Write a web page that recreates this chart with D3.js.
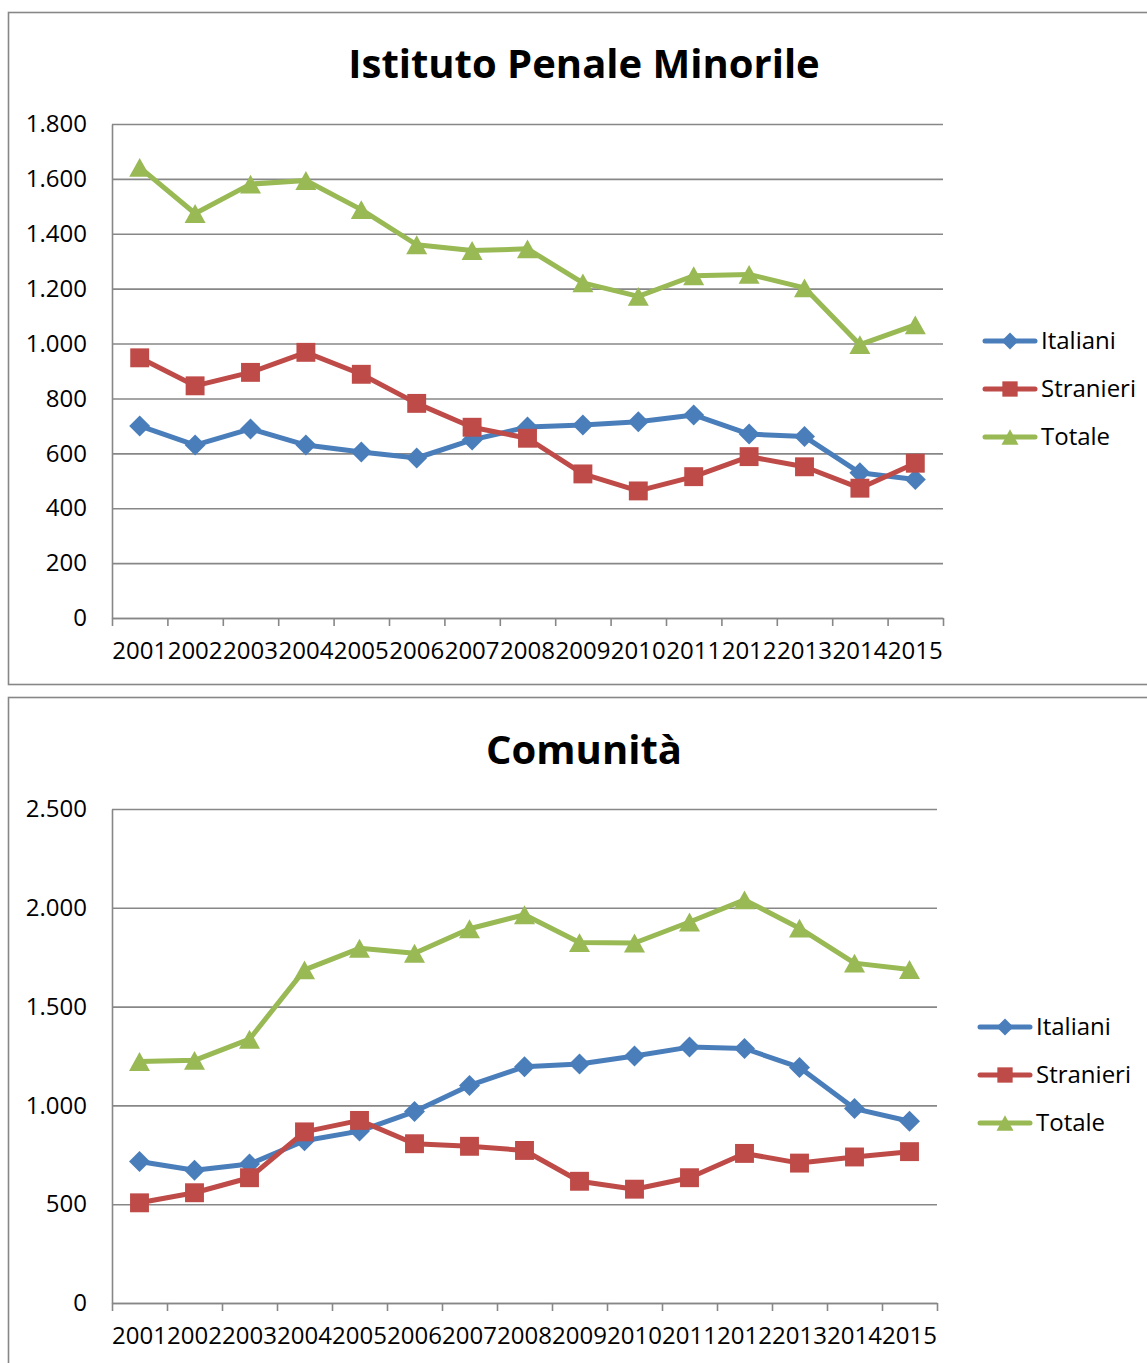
<!DOCTYPE html>
<html>
<head>
<meta charset="utf-8">
<script src="https://cdn.jsdelivr.net/npm/d3@7"></script>
<style>
  body { margin: 0; background: #fff; }
  svg { display: block; font-family: "Open Sans", sans-serif; }
  .axis text { fill: #000; font-size: 24px; font-family: "Open Sans", sans-serif; }
  .axis path, .axis line { stroke: #878787; stroke-width: 1.6px; }
  .title { font-weight: bold; font-size: 40px; }
  .legend text { font-size: 24px; }
</style>
</head>
<body>
<svg width="1147" height="1363"></svg>
<script>
(function() {

	var years = ['2001','2002','2003','2004','2005','2006','2007','2008','2009','2010','2011','2012','2013','2014','2015']
	var seriesNames = ['Italiani', 'Stranieri', 'Totale']
	var seriesColors = ['#4A7EBB', '#BE4B48', '#98B954']

	// Istituto Penale Minorile
	var ipmItaliani = [700, 630, 689, 630, 605, 583, 649, 696, 703, 715, 740, 670, 661, 529, 505]
	var ipmStranieri = [948, 846, 895, 968, 888, 782, 695, 655, 525, 463, 515, 588, 551, 473, 564]
	var ipmTotale = [1642, 1474, 1581, 1594, 1488, 1360, 1339, 1345, 1221, 1172, 1247, 1252, 1203, 996, 1068]
	var ipmTicks = [0, 200, 400, 600, 800, 1000, 1200, 1400, 1600, 1800]

	// Comunità
	var comItaliani = [716, 672, 703, 821, 870, 969, 1101, 1196, 1210, 1250, 1295, 1288, 1192, 984, 920]
	var comStranieri = [507, 558, 634, 866, 924, 806, 793, 772, 616, 576, 634, 757, 708, 739, 766]
	var comTotale = [1222, 1228, 1335, 1686, 1795, 1770, 1894, 1965, 1824, 1822, 1928, 2040, 1897, 1720, 1688]
	var comTicks = [0, 500, 1000, 1500, 2000, 2500]

	var itFormat = d3.formatLocale({ decimal: ',', thousands: '.', grouping: [3], currency: ['€', ''] }).format(',d')

	var svg = d3.select('svg')

	var charts = [
		{ title: 'Istituto Penale Minorile', series: [ipmItaliani, ipmStranieri, ipmTotale], ticks: ipmTicks,
		  frame: { x: 8, y: 12, h: 672 }, titleY: 78,
		  left: 112, right: 943, top: 124, bottom: 618,
		  legend: { x: 983, y: 341 } },
		{ title: 'Comunità', series: [comItaliani, comStranieri, comTotale], ticks: comTicks,
		  frame: { x: 8, y: 697, h: 700 }, titleY: 764,
		  left: 112, right: 937, top: 809, bottom: 1303,
		  legend: { x: 978, y: 1027 } }
	]

	// diamond / square / triangle, s = half size
	function marker(sel, idx, s) {
		if (idx === 0) {
			sel.append('path').attr('d', 'M0,' + (-s) + 'L' + s + ',0L0,' + s + 'L' + (-s) + ',0Z')
		} else if (idx === 1) {
			sel.append('rect').attr('x', -s * 0.9).attr('y', -s * 0.9).attr('width', s * 1.8).attr('height', s * 1.8)
		} else {
			sel.append('path').attr('d', 'M0,' + (-s * 0.9) + 'L' + s + ',' + (s * 0.9) + 'L' + (-s) + ',' + (s * 0.9) + 'Z')
		}
	}

	function drawChart(c) {
		var g = svg.append('g')

		g.append('rect')
			.attr('x', c.frame.x + 0.5).attr('y', c.frame.y + 0.5)
			.attr('width', 1200).attr('height', c.frame.h)
			.attr('fill', 'none').attr('stroke', '#878787').attr('stroke-width', 1.6)

		g.append('text').attr('class', 'title')
			.attr('x', 584).attr('y', c.titleY)
			.attr('text-anchor', 'middle')
			.text(c.title)

		var width = c.right - c.left
		var height = c.bottom - c.top

		var x = d3.scaleBand().domain(years).range([0, width]).paddingInner(0).paddingOuter(0)
		var xIdx = d3.scaleLinear().domain([0, years.length]).range([0, width])
		var y = d3.scaleLinear().domain([0, d3.max(c.ticks)]).range([height, 0])

		var plot = g.append('g').attr('transform', 'translate(' + c.left + ',' + c.top + ')')

		plot.append('g').attr('class', 'axis axis--y')
			.call(d3.axisLeft(y).tickValues(c.ticks).tickFormat(itFormat).tickSizeInner(-width).tickSizeOuter(0).tickPadding(25))

		plot.append('g').attr('class', 'axis axis--x')
			.attr('transform', 'translate(0,' + height + ')')
			.call(d3.axisBottom(x).tickSize(0).tickPadding(24))

		plot.append('g').attr('class', 'axis axis--xticks')
			.attr('transform', 'translate(0,' + height + ')')
			.call(d3.axisBottom(xIdx).tickValues(d3.range(years.length + 1)).tickFormat('').tickSizeInner(8).tickSizeOuter(0))
			.select('.domain').remove()

		var line = d3.line()
			.x(function(d, i) { return x(years[i]) + x.bandwidth() / 2 })
			.y(function(d) { return y(d) })

		c.series.forEach(function(values, si) {
			var sg = plot.append('g').attr('class', 'series')
			sg.append('path')
				.datum(values)
				.attr('d', line)
				.attr('fill', 'none')
				.attr('stroke', seriesColors[si])
				.attr('stroke-width', 5)
				.attr('stroke-linejoin', 'round')

			sg.selectAll('.pt')
				.data(values)
				.enter()
				.append('g')
				.attr('class', 'pt')
				.attr('fill', seriesColors[si])
				.attr('transform', function(d, i) {
					return 'translate(' + (x(years[i]) + x.bandwidth() / 2) + ',' + y(d) + ')'
				})
				.each(function() { marker(d3.select(this), si, 10.5) })
		})

		var lg = g.append('g').attr('class', 'legend')
			.attr('transform', 'translate(' + c.legend.x + ',' + c.legend.y + ')')

		seriesNames.forEach(function(name, si) {
			var row = lg.append('g').attr('transform', 'translate(0,' + (si * 48) + ')')
			row.append('line')
				.attr('x1', 2).attr('x2', 52).attr('y1', 0).attr('y2', 0)
				.attr('stroke', seriesColors[si]).attr('stroke-width', 5)
				.attr('stroke-linecap', 'round')
			var m = row.append('g').attr('transform', 'translate(27,0)').attr('fill', seriesColors[si])
			marker(m, si, 8.5)
			row.append('text')
				.attr('x', 58).attr('y', 0).attr('dy', '0.35em')
				.text(name)
		})
	}

	charts.forEach(drawChart)
})()
</script>
</body>
</html>
